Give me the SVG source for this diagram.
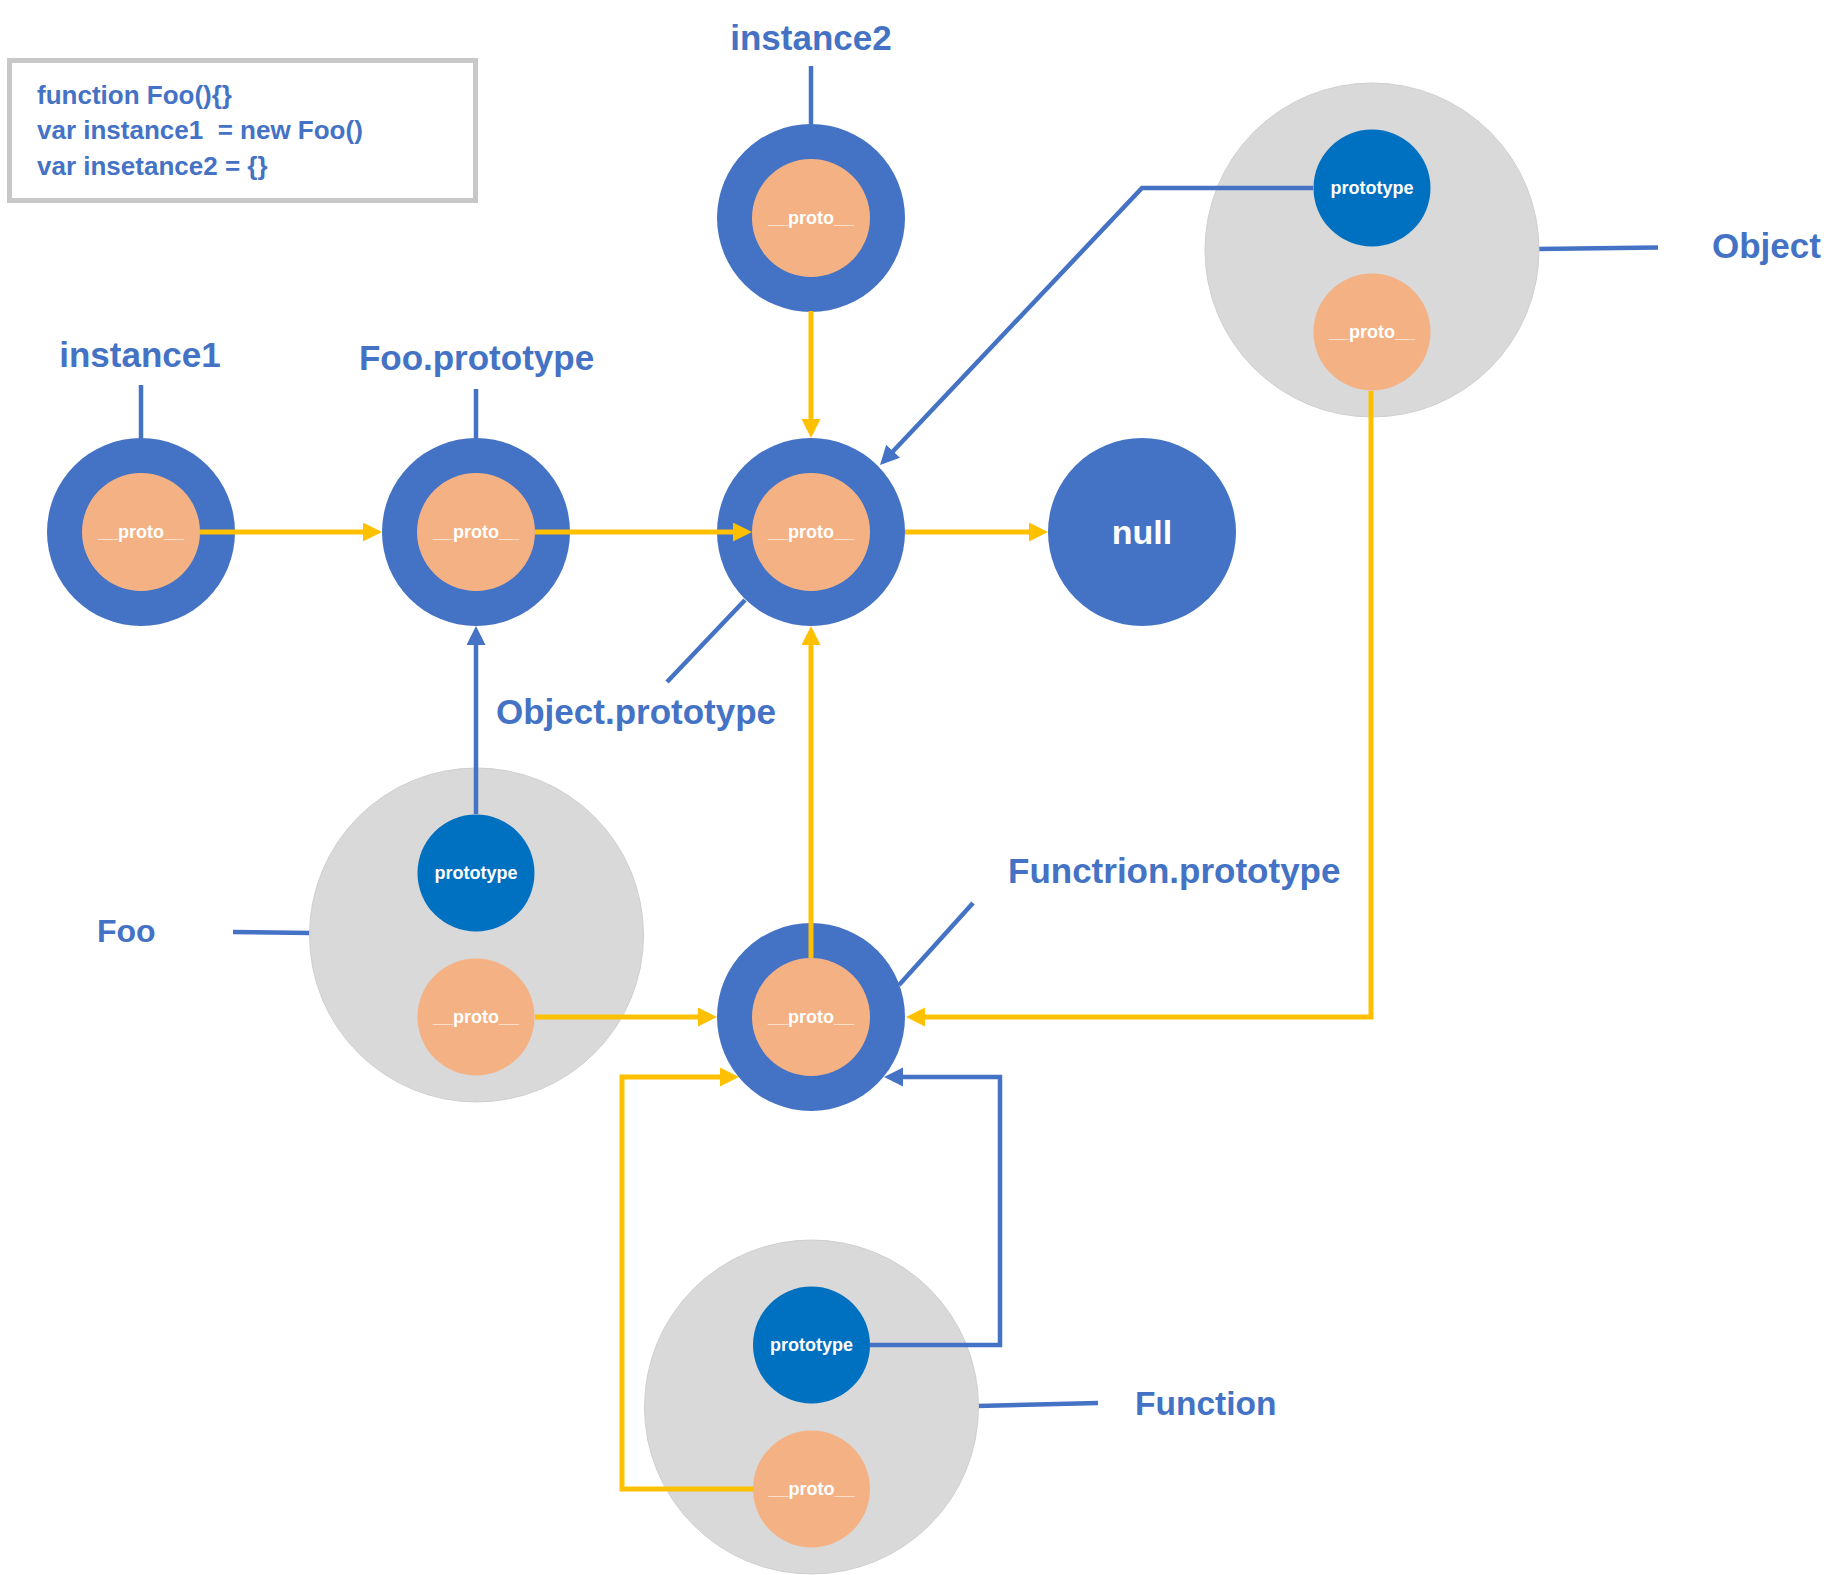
<svg xmlns="http://www.w3.org/2000/svg" width="1841" height="1575" viewBox="0 0 1841 1575">
  <style>
    .outer { fill: #4472c4; }
    .proto { fill: #f4b183; }
    .ptype { fill: #0070c0; }
    .gray { fill: #d9d9d9; stroke: #cfcfcf; stroke-width: 1; }
    .in { font-family: "Liberation Sans", Arial, sans-serif; font-weight: bold; font-size: 18px; fill: #ffffff; text-anchor: middle; }
    .lbl { font-family: "Liberation Sans", Arial, sans-serif; font-weight: bold; font-size: 35px; fill: #4472c4; }
    .code { font-family: "Liberation Sans", Arial, sans-serif; font-weight: bold; font-size: 26px; fill: #4472c4; }
    .bl { fill: none; stroke: #4472c4; stroke-width: 4.5; }
    .yl { fill: none; stroke: #ffc000; stroke-width: 5; }
  </style>
  <defs>
    <marker id="ay" markerUnits="userSpaceOnUse" markerWidth="20" markerHeight="20" refX="9" refY="9.5" orient="auto">
      <path d="M0,0 L19,9.5 L0,19 Z" fill="#ffc000"/>
    </marker>
    <marker id="ab" markerUnits="userSpaceOnUse" markerWidth="20" markerHeight="20" refX="9" refY="9.5" orient="auto">
      <path d="M0,0 L19,9.5 L0,19 Z" fill="#4472c4"/>
    </marker>
  </defs>
  <rect width="1841" height="1575" fill="#ffffff"/>

  <g id="code">
    <rect x="9.5" y="60.5" width="466" height="140" fill="#ffffff" stroke="#c8c8c8" stroke-width="5"/>
    <text class="code" x="37" y="104">function Foo(){}</text>
    <text class="code" x="37" y="139" xml:space="preserve">var instance1  = new Foo()</text>
    <text class="code" x="37" y="175">var insetance2 = {}</text>
  </g>

  <g id="labels-lines">
    <line class="bl" x1="141" y1="385" x2="141" y2="438"/>
    <line class="bl" x1="476" y1="389" x2="476" y2="438"/>
    <line class="bl" x1="811" y1="66" x2="811" y2="124"/>
    <line class="bl" x1="745" y1="600" x2="667" y2="682"/>
    <line class="bl" x1="973" y1="903" x2="899" y2="985"/>
    <line class="bl" x1="233" y1="932" x2="311" y2="933"/>
    <line class="bl" x1="1537" y1="249" x2="1658" y2="247.5"/>
    <line class="bl" x1="977" y1="1406" x2="1098" y2="1403"/>
  </g>

  <g id="instance2">
    <circle class="outer" cx="811" cy="218" r="94"/>
    <circle class="proto" cx="811" cy="218" r="59"/>
    <text class="in" x="811" y="224">__proto__</text>
    <text class="lbl" x="811" y="50" text-anchor="middle">instance2</text>
  </g>

  <g id="instance1">
    <circle class="outer" cx="141" cy="532" r="94"/>
    <circle class="proto" cx="141" cy="532" r="59"/>
    <text class="in" x="141" y="538">__proto__</text>
    <text class="lbl" x="140" y="367" text-anchor="middle">instance1</text>
  </g>

  <g id="foo-prototype">
    <circle class="outer" cx="476" cy="532" r="94"/>
    <circle class="proto" cx="476" cy="532" r="59"/>
    <text class="in" x="476" y="538">__proto__</text>
    <text class="lbl" x="476.5" y="370" text-anchor="middle">Foo.prototype</text>
  </g>

  <g id="object-prototype">
    <circle class="outer" cx="811" cy="532" r="94"/>
    <circle class="proto" cx="811" cy="532" r="59"/>
    <text class="in" x="811" y="538">__proto__</text>
    <text class="lbl" x="496" y="724">Object.prototype</text>
  </g>

  <g id="null">
    <circle class="outer" cx="1142" cy="532" r="94"/>
    <text class="in" x="1142" y="544" style="font-size:34px">null</text>
  </g>

  <g id="object">
    <circle class="gray" cx="1372" cy="250" r="167"/>
    <circle class="ptype" cx="1372" cy="188" r="58.5"/>
    <text class="in" x="1372" y="194">prototype</text>
    <circle class="proto" cx="1372" cy="332" r="58.5"/>
    <text class="in" x="1372" y="338">__proto__</text>
    <text class="lbl" x="1712" y="258">Object</text>
  </g>

  <g id="foo">
    <circle class="gray" cx="476.5" cy="935" r="167"/>
    <circle class="ptype" cx="476" cy="873" r="58.5"/>
    <text class="in" x="476" y="879">prototype</text>
    <circle class="proto" cx="476" cy="1017" r="58.5"/>
    <text class="in" x="476" y="1023">__proto__</text>
    <text class="lbl" x="97" y="942" style="font-size:32px">Foo</text>
  </g>

  <g id="function-prototype">
    <circle class="outer" cx="811" cy="1017" r="94"/>
    <circle class="proto" cx="811" cy="1017" r="59"/>
    <text class="in" x="811" y="1023">__proto__</text>
    <text class="lbl" x="1008" y="883">Functrion.prototype</text>
  </g>

  <g id="function">
    <circle class="gray" cx="811.5" cy="1407" r="167"/>
    <circle class="ptype" cx="811.5" cy="1345" r="58.5"/>
    <text class="in" x="811.5" y="1351">prototype</text>
    <circle class="proto" cx="811.5" cy="1489" r="58.5"/>
    <text class="in" x="811.5" y="1495">__proto__</text>
    <text class="lbl" x="1135" y="1415" style="font-size:33.5px">Function</text>
  </g>

  <g id="connectors">
    <path class="yl" d="M200,532 H372" marker-end="url(#ay)"/>
    <path class="yl" d="M535,532 H742" marker-end="url(#ay)"/>
    <path class="yl" d="M905,532 H1038" marker-end="url(#ay)"/>
    <path class="yl" d="M811,311 V428" marker-end="url(#ay)"/>
    <path class="yl" d="M811,958 V636" marker-end="url(#ay)"/>
    <path class="yl" d="M535,1017 H707" marker-end="url(#ay)"/>
    <path class="yl" d="M1371,391 V1017 H916" marker-end="url(#ay)"/>
    <path class="yl" d="M753,1489 H622 V1077 H729" marker-end="url(#ay)"/>
    <path class="bl" d="M870,1345 H1000 V1077 H894" marker-end="url(#ab)"/>
    <path class="bl" d="M476,814 V636" marker-end="url(#ab)"/>
    <path class="bl" d="M1313,188 H1142 L886.9,457.7" marker-end="url(#ab)"/>
  </g>
</svg>
